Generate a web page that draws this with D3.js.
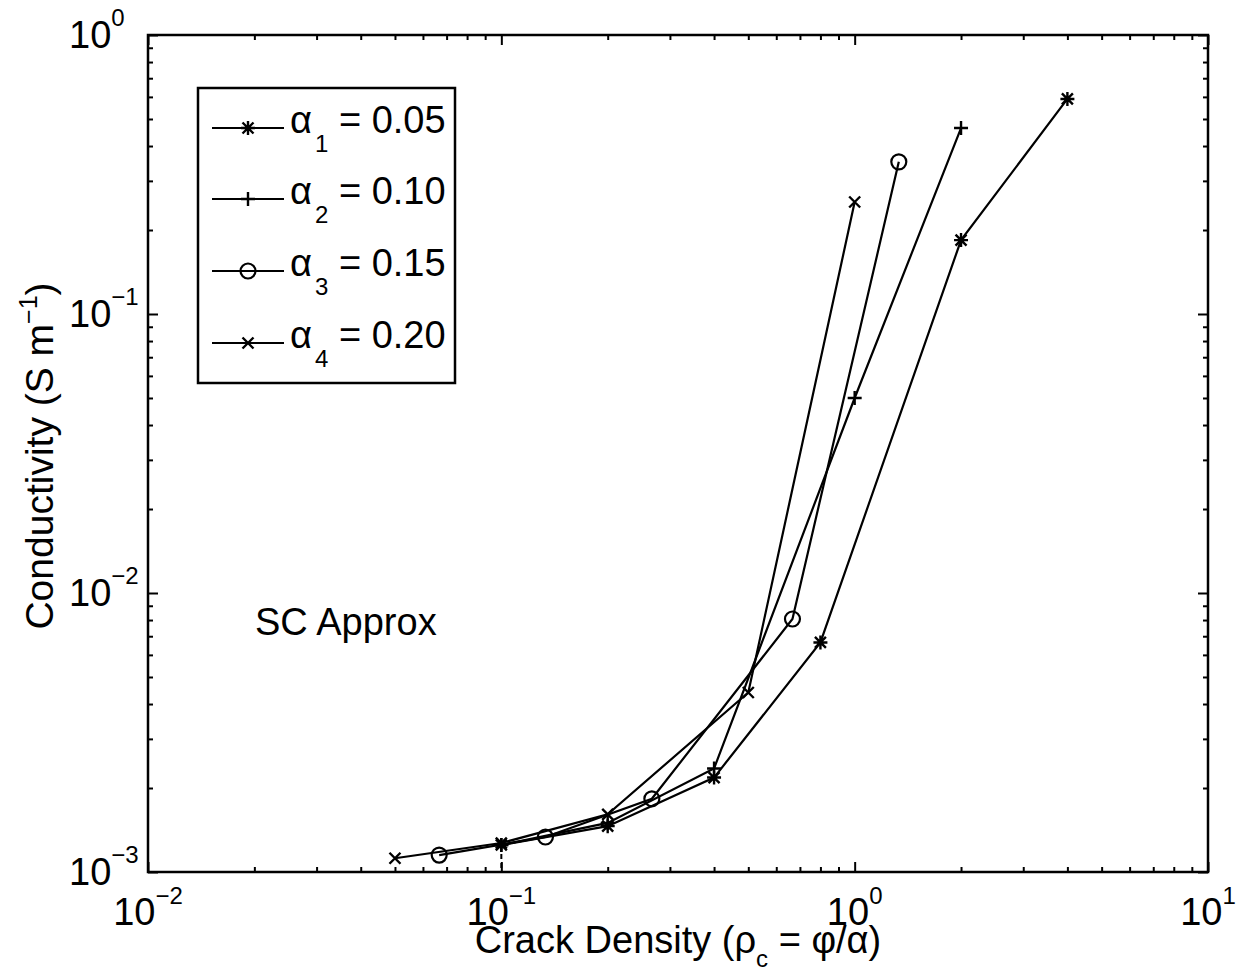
<!DOCTYPE html>
<html>
<head>
<meta charset="utf-8">
<script src="https://cdn.jsdelivr.net/npm/d3@7"></script>
<style>
  body { margin: 0; background: #fff; }
  text { font-family: "Liberation Sans", Arial, sans-serif; fill: #000; }
</style>
</head>
<body>
<div id="chart"></div>
<script>
// --- data ---
const alphas = ['0.05', '0.10', '0.15', '0.20'];
const markers = ['star', 'plus', 'circle', 'cross'];

const x1 = [0.1, 0.2, 0.4, 0.8, 2, 4];
const y1 = [1.25e-3, 1.46e-3, 2.18e-3, 6.65e-3, 0.184, 0.59];
const x2 = [0.1, 0.2, 0.4, 1, 2];
const y2 = [1.25e-3, 1.50e-3, 2.35e-3, 0.050, 0.464];
const x3 = [0.0667, 0.1333, 0.2667, 0.6667, 1.3333];
const y3 = [1.15e-3, 1.335e-3, 1.83e-3, 8.07e-3, 0.351];
const x4 = [0.05, 0.1, 0.2, 0.5, 1];
const y4 = [1.12e-3, 1.27e-3, 1.61e-3, 4.40e-3, 0.252];

const xMajor = [0.01, 0.1, 1, 10];
const xExp = ['\u22122', '\u22121', '0', '1'];
const yMajor = [1e-3, 1e-2, 1e-1, 1];
const yExp = ['\u22123', '\u22122', '\u22121', '0'];

const series = [[x1, y1], [x2, y2], [x3, y3], [x4, y4]];

// --- layout ---
const width = 1244, height = 972;
const plotL = 148, plotR = 1208, plotT = 35, plotB = 872;
const font = 38, small = 24;

const svg = d3.select('#chart').append('svg')
    .attr('width', width)
    .attr('height', height);

const x = d3.scaleLog().domain([0.01, 10]).range([plotL, plotR]);
const y = d3.scaleLog().domain([1e-3, 1]).range([plotB, plotT]);

// minor ticks 2..9 inside each decade
const minorOf = dom => {
    const out = [];
    for (let d = dom[0]; d < dom[1] * 0.999; d *= 10)
        for (let k = 2; k <= 9; k++) out.push(d * k);
    return out;
};
const xMinor = minorOf(x.domain());
const yMinor = minorOf(y.domain());

function tickAxis(axis, scale, values, size) {
    return axis(scale).tickValues(values).tickSize(-size).tickSizeOuter(0).tickFormat('');
}

const axes = [
    [d3.axisBottom, x, plotB, true],
    [d3.axisTop, x, plotT, true],
    [d3.axisLeft, y, plotL, false],
    [d3.axisRight, y, plotR, false]
];
axes.forEach(([fn, sc, pos, horiz]) => {
    [[horiz ? xMajor : yMajor, 10], [horiz ? xMinor : yMinor, 5]].forEach(([vals, sz]) => {
        const g = svg.append('g')
            .attr('transform', horiz ? `translate(0,${pos})` : `translate(${pos},0)`)
            .call(tickAxis(fn, sc, vals, sz));
        g.select('.domain').remove();
        g.selectAll('line').attr('stroke', '#000').attr('stroke-width', 2);
    });
});

// frame
svg.append('rect')
    .attr('x', plotL).attr('y', plotT)
    .attr('width', plotR - plotL).attr('height', plotB - plotT)
    .attr('fill', 'none').attr('stroke', '#000').attr('stroke-width', 2.5);

// tick labels
xMajor.forEach((v, i) => {
    const t = svg.append('text')
        .attr('x', x(v)).attr('y', 925)
        .attr('text-anchor', 'middle')
        .style('font-size', font + 'px');
    t.append('tspan').text('10');
    t.append('tspan').attr('dy', -21).style('font-size', small + 'px').text(xExp[i]);
});
yMajor.forEach((v, i) => {
    const t = svg.append('text')
        .attr('x', 69).attr('y', y(v) + 13)
        .style('font-size', font + 'px');
    t.append('tspan').text('10');
    t.append('tspan').attr('dy', -22).style('font-size', small + 'px').text(yExp[i]);
});

// dashed stub at x = 0.1
svg.append('line')
    .attr('x1', x(0.1)).attr('x2', x(0.1))
    .attr('y1', y(y1[0])).attr('y2', plotB)
    .attr('stroke', '#000').attr('stroke-width', 2)
    .attr('stroke-dasharray', '5,4');

// markers
function markerPath(kind) {
    const s = 7, d = 5.5;
    if (kind === 'plus') return `M${-s},0H${s}M0,${-s}V${s}`;
    if (kind === 'cross') return `M${-d},${-d}L${d},${d}M${-d},${d}L${d},${-d}`;
    if (kind === 'star') return `M${-s},0H${s}M0,${-s}V${s}M${-d},${-d}L${d},${d}M${-d},${d}L${d},${-d}`;
    return null;
}
function drawMarker(g, kind, px, py) {
    if (kind === 'circle') {
        g.append('circle').attr('cx', px).attr('cy', py).attr('r', 7.5)
            .attr('fill', 'none').attr('stroke', '#000').attr('stroke-width', 2.2);
    } else {
        g.append('path').attr('transform', `translate(${px},${py})`)
            .attr('d', markerPath(kind))
            .attr('fill', 'none').attr('stroke', '#000').attr('stroke-width', 2.4);
    }
}

const line = d3.line().x(d => x(d[0])).y(d => y(d[1]));
series.forEach(([xs, ys], i) => {
    const pts = xs.map((v, j) => [v, ys[j]]);
    const g = svg.append('g');
    g.append('path').datum(pts)
        .attr('d', line)
        .attr('fill', 'none').attr('stroke', '#000').attr('stroke-width', 2.2);
    pts.forEach(p => drawMarker(g, markers[i], x(p[0]), y(p[1])));
});

// annotation
svg.append('text')
    .attr('x', 255).attr('y', 635)
    .style('font-size', font + 'px')
    .text('SC Approx');

// legend
const leg = svg.append('g');
leg.append('rect')
    .attr('x', 198).attr('y', 88).attr('width', 257).attr('height', 295)
    .attr('fill', '#fff').attr('stroke', '#000').attr('stroke-width', 2.5);
const rowY = [128, 199, 271, 343];
alphas.forEach((a, i) => {
    const ry = rowY[i];
    leg.append('line').attr('x1', 212).attr('x2', 284).attr('y1', ry).attr('y2', ry)
        .attr('stroke', '#000').attr('stroke-width', 2.2);
    drawMarker(leg, markers[i], 248, ry);
    const t = leg.append('text').attr('x', 290).attr('y', ry + 5).style('font-size', font + 'px');
    t.append('tspan').text('\u03B1');
    t.append('tspan').attr('dy', 19).attr('dx', 3).style('font-size', small + 'px').text(String(i + 1));
    t.append('tspan').attr('dy', -19).text(' = ' + a);
});

// axis labels
const xl = svg.append('text')
    .attr('x', (plotL + plotR) / 2).attr('y', 953)
    .attr('text-anchor', 'middle')
    .style('font-size', font + 'px');
xl.append('tspan').text('Crack Density (\u03C1');
xl.append('tspan').attr('dy', 14).style('font-size', small + 'px').text('c');
xl.append('tspan').attr('dy', -14).text(' = \u03C6/\u03B1)');

const yl = svg.append('text')
    .attr('transform', 'translate(53,456) rotate(-90)')
    .attr('text-anchor', 'middle')
    .style('font-size', '39px');
yl.append('tspan').text('Conductivity (S m');
yl.append('tspan').attr('dy', -16).style('font-size', '25px').text('\u22121');
yl.append('tspan').attr('dy', 16).text(')');
</script>
</body>
</html>
